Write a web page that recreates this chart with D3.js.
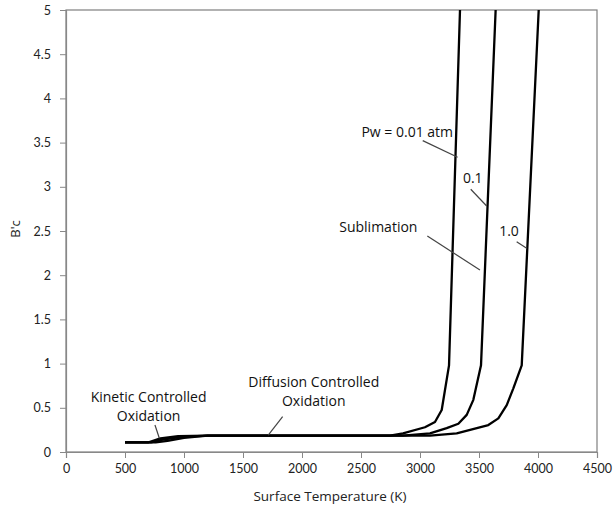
<!DOCTYPE html>
<html><head><meta charset="utf-8">
<script src="https://cdn.jsdelivr.net/npm/d3@7"></script>
<style>body{margin:0;background:#fff}svg{display:block}text{font-family:"Open Sans",Lato,sans-serif}</style>
</head><body><svg id="c" width="613" height="508"></svg>
<script>
const xTicks=[0,500,1000,1500,2000,2500,3000,3500,4000,4500];
const yTicks=[0,0.5,1,1.5,2,2.5,3,3.5,4,4.5,5];
const xTitle="Surface Temperature (K)";
const yTitle="B'c";
// Pw = 0.01 atm
const t001=[500,700,800,950,1200,2746,2856,3042,3127,3184,3246,3339];
const b001=[0.11,0.11,0.155,0.178,0.185,0.185,0.21,0.28,0.34,0.475,0.98,5];
// Pw = 0.1 atm
const t01=[500,760,860,1000,1200,2856,3085,3226,3325,3396,3452,3517,3641];
const b01=[0.11,0.11,0.125,0.16,0.185,0.185,0.21,0.27,0.32,0.42,0.59,0.98,5];
// Pw = 1.0 atm
const t1=[500,720,820,980,1200,3085,3311,3579,3664,3735,3791,3862,4006];
const b1=[0.11,0.11,0.14,0.17,0.185,0.185,0.21,0.305,0.38,0.53,0.72,0.98,5];
const labels=["Pw = 0.01 atm","0.1","Sublimation","1.0"];
const labelT=[2892,3447,2647,3754];
const labelB=[3.563,3.043,2.492,2.449];
const ptrT1=[3023,3430,3062,3819], ptrB1=[3.522,2.972,2.443,2.379];
const ptrT2=[3319,3565,3508,3904], ptrB2=[3.334,2.783,2.059,2.304];
const regionLines=[["Kinetic Controlled","Oxidation"],["Diffusion Controlled","Oxidation"]];
const regionT=[700,2100], regionB=[0.569,0.732];
const regPtrT1=[754,1836], regPtrB1=[0.305,0.399];
const regPtrT2=[791,1714], regPtrB2=[0.155,0.192];

const svg=d3.select("#c");
const L=66,R=597,T=10,B=452;
const x=d3.scaleLinear().domain([0,4500]).range([L,R]);
const y=d3.scaleLinear().domain([0,5]).range([B,T]);
svg.append("rect").attr("x",L).attr("y",T).attr("width",R-L).attr("height",B-T)
  .attr("fill","none").attr("stroke","#7f7f7f").attr("stroke-width",1.2);
const xa=svg.append("g").attr("transform",`translate(0,${B})`)
  .call(d3.axisBottom(x).tickValues(xTicks).tickSize(6).tickPadding(6).tickFormat(d3.format("d")));
const ya=svg.append("g").attr("transform",`translate(${L},0)`)
  .call(d3.axisLeft(y).tickValues(yTicks).tickSize(6).tickPadding(9).tickFormat(d=>String(d)));
[xa,ya].forEach(g=>{g.select(".domain").attr("stroke","#888").attr("stroke-width",1.2);
  g.selectAll(".tick line").attr("stroke","#888");
  g.selectAll(".tick text").attr("font-size",12.5).attr("fill","#222").style("font-family","Lato,sans-serif");});
svg.append("text").attr("x",330).attr("y",501).attr("text-anchor","middle").attr("font-size",13.5).attr("fill","#222").text(xTitle);
svg.append("text").attr("transform","translate(20,229) rotate(-90)").attr("text-anchor","middle").attr("font-size",13).attr("fill","#222").text(yTitle);

const line=d3.line().x(d=>x(d[0])).y(d=>y(d[1]));
const series=[[t001,b001],[t01,b01],[t1,b1]];
svg.append("clipPath").attr("id","cp").append("rect").attr("x",L).attr("y",T).attr("width",R-L).attr("height",B-T);
series.forEach(([ts,bs])=>{
  svg.append("path").attr("clip-path","url(#cp)").datum(ts.map((t,i)=>[t,bs[i]])).attr("d",line)
   .attr("fill","none").attr("stroke","#000").attr("stroke-width",2.3).attr("stroke-linejoin","round");
});
labels.forEach((s,i)=>{
  svg.append("text").attr("x",x(labelT[i])).attr("y",y(labelB[i])).attr("text-anchor","middle")
    .attr("font-size",14).attr("fill","#111").text(s);
  svg.append("line").attr("x1",x(ptrT1[i])).attr("y1",y(ptrB1[i])).attr("x2",x(ptrT2[i])).attr("y2",y(ptrB2[i]))
    .attr("stroke","#444").attr("stroke-width",1.2);
});
regionLines.forEach((ls,i)=>{
  const tx=svg.append("text").attr("text-anchor","middle").attr("font-size",14).attr("fill","#111");
  ls.forEach((s,j)=>tx.append("tspan").attr("x",x(regionT[i])).attr("y",y(regionB[i])+j*19).text(s));
  svg.append("line").attr("x1",x(regPtrT1[i])).attr("y1",y(regPtrB1[i])).attr("x2",x(regPtrT2[i])).attr("y2",y(regPtrB2[i]))
    .attr("stroke","#444").attr("stroke-width",1.2);
});
</script></body></html>
